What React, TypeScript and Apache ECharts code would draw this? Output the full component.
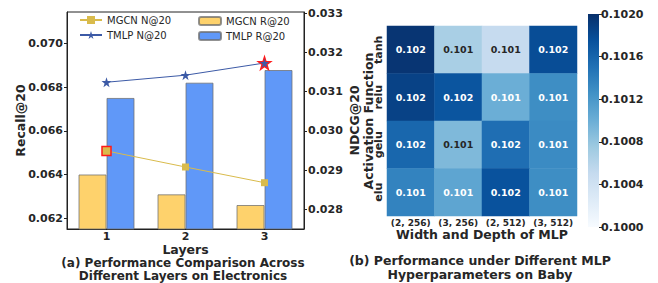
import React, { useEffect, useRef } from "react";
import * as echarts from "echarts";

const layers = ["1", "2", "3"];
const mgcnRecall = [0.064, 0.06309, 0.0626];
const tmlpRecall = [0.06751, 0.06821, 0.06879];
const mgcnNdcg = [0.02949, 0.02908, 0.02868];
const tmlpNdcg = [0.03124, 0.03142, 0.03173];
const recallTicks = [0.062, 0.064, 0.066, 0.068, 0.07];
const ndcgTicks = [0.028, 0.029, 0.03, 0.031, 0.032, 0.033];

const heatCols = ["(2, 256)", "(3, 256)", "(2, 512)", "(3, 512)"];
const heatRows = ["tanh", "relu", "gelu", "elu"];
const heatValues = [
  [0.10196, 0.10068, 0.1005, 0.10178],
  [0.10186, 0.10172, 0.101, 0.10128],
  [0.10158, 0.1009, 0.10152, 0.1013],
  [0.10136, 0.10108, 0.10174, 0.10128],
];

const BLUES = ["#f7fbff", "#deebf7", "#c6dbef", "#9ecae1", "#6baed6", "#4292c6", "#2171b5", "#08519c", "#08306b"];
const FONT = "DejaVu Sans";
const TXT = "#262626";
const STAR = "path://M10,0 L12.245,6.91 L19.51,6.91 L13.63,11.18 L15.88,18.09 L10,13.82 L4.12,18.09 L6.37,11.18 L0.49,6.91 L7.755,6.91 Z";

export default function App() {
  const ref = useRef<HTMLDivElement>(null);
  useEffect(() => {
    if (!ref.current) return;
    const chart = echarts.init(ref.current, undefined, { renderer: "svg" });
    const heatData: any[] = [];
    heatRows.forEach((r, ri) =>
      heatCols.forEach((c, ci) => {
        const v = heatValues[ri][ci];
        heatData.push({ value: [ci, ri, v], label: { color: v < 0.10095 ? TXT : "#ffffff" } });
      })
    );
    const bold = { fontFamily: FONT, fontWeight: "bold" as const, color: TXT };
    const legendText = { fontFamily: FONT, fontSize: 10, color: TXT };
    const mkLegend = (name: string, left: number, top: number, h: number) => ({
      data: [name], left, top, padding: 0, itemWidth: 22, itemHeight: h, textStyle: legendText,
    });
    chart.setOption({
      animation: false,
      textStyle: { fontFamily: FONT },
      title: [
        {
          text: "(a) Performance Comparison Across\nDifferent Layers on Electronics",
          left: 183, top: 256, textAlign: "center", padding: 0,
          textStyle: { ...bold, fontSize: 12, lineHeight: 13.5 },
        },
        {
          text: "(b) Performance under Different MLP\nHyperparameters on Baby",
          left: 480, top: 253, textAlign: "center", padding: 0,
          textStyle: { ...bold, fontSize: 12.5, lineHeight: 14 },
        },
      ],
      legend: [
        mkLegend("MGCN N@20", 79, 15, 10),
        mkLegend("TMLP N@20", 79, 30, 10),
        mkLegend("MGCN R@20", 198, 16, 8),
        mkLegend("TMLP R@20", 198, 31, 8),
      ],
      grid: [
        { left: 67, top: 12, width: 237, height: 217, show: true, borderColor: "#222", borderWidth: 1, containLabel: false },
        { left: 387, top: 26, width: 190, height: 190, containLabel: false },
        { left: 588, top: 14, width: 11, height: 213, containLabel: false },
      ],
      xAxis: [
        {
          type: "category", gridIndex: 0, data: layers,
          name: "Layers", nameLocation: "middle", nameGap: 13.5, nameMoveOverlap: false,
          nameTextStyle: { ...bold, fontSize: 12.5 },
          axisLine: { lineStyle: { color: "#222" } },
          axisTick: { alignWithLabel: true, length: 3, lineStyle: { color: "#222" } },
          axisLabel: { ...bold, fontSize: 11, margin: 2 },
        },
        {
          type: "category", gridIndex: 1, data: heatCols,
          name: "Width and Depth of MLP", nameLocation: "middle", nameGap: 12, nameMoveOverlap: false,
          nameTextStyle: { ...bold, fontSize: 12.5 },
          axisLine: { show: false }, axisTick: { show: false },
          axisLabel: { ...bold, fontSize: 9, margin: 2, interval: 0 },
          splitArea: { show: false },
        },
        { type: "category", gridIndex: 2, data: ["c"], show: false },
      ],
      yAxis: [
        {
          type: "value", gridIndex: 0, min: 0.0615, max: 0.07145,
          name: "Recall@20", nameLocation: "middle", nameGap: 40, nameRotate: 90, nameMoveOverlap: false,
          nameTextStyle: { ...bold, fontSize: 12.5 },
          axisLine: { show: true, lineStyle: { color: "#222" } },
          axisTick: { show: true, length: 3, customValues: recallTicks, lineStyle: { color: "#222" } },
          axisLabel: { ...bold, fontSize: 11, margin: 4, customValues: recallTicks, formatter: (v: number) => v.toFixed(3) },
          splitLine: { show: false },
        },
        {
          type: "value", gridIndex: 0, position: "right", min: 0.0275, max: 0.03303,
          name: "NDCG@20", nameLocation: "middle", nameGap: 44, nameRotate: 90, nameMoveOverlap: false,
          nameTextStyle: { ...bold, fontSize: 12.5 },
          axisLine: { show: true, lineStyle: { color: "#222" } },
          axisTick: { show: true, length: 3, customValues: ndcgTicks, lineStyle: { color: "#222" } },
          axisLabel: { ...bold, fontSize: 11, margin: 4, customValues: ndcgTicks, formatter: (v: number) => v.toFixed(3) },
          splitLine: { show: false },
        },
        {
          type: "category", gridIndex: 1, data: heatRows, inverse: true,
          name: "Activation Function", nameLocation: "middle", nameGap: 12.5, nameRotate: 90, nameMoveOverlap: false,
          nameTextStyle: { ...bold, fontSize: 12.5 },
          axisLine: { show: false }, axisTick: { show: false },
          axisLabel: { ...bold, fontSize: 11, rotate: 90, margin: 3, interval: 0 },
        },
        {
          type: "value", gridIndex: 2, position: "right", min: 0.1, max: 0.102, interval: 0.0004,
          axisLine: { show: false },
          axisTick: { show: true, length: 3, lineStyle: { color: TXT } },
          axisLabel: { ...bold, fontSize: 11, margin: 2, formatter: (v: number) => v.toFixed(4) },
          splitLine: { show: false },
        },
      ],
      visualMap: {
        show: false, type: "continuous", min: 0.1, max: 0.102, seriesIndex: 4, dimension: 2,
        inRange: { color: BLUES },
      },
      series: [
        {
          name: "MGCN R@20", type: "bar", xAxisIndex: 0, yAxisIndex: 0, data: mgcnRecall,
          barWidth: 28, barGap: "0%",
          itemStyle: { color: "#fed26c", borderColor: "rgba(110,110,110,0.75)", borderWidth: 1 },
          z: 1,
        },
        {
          name: "TMLP R@20", type: "bar", xAxisIndex: 0, yAxisIndex: 0, data: tmlpRecall,
          barWidth: 28, barGap: "0%",
          itemStyle: { color: "#6098f8", borderColor: "rgba(110,110,110,0.75)", borderWidth: 1 },
          z: 1,
        },
        {
          name: "MGCN N@20", type: "line", xAxisIndex: 0, yAxisIndex: 1,
          data: mgcnNdcg.map((v, i) =>
            i === 0 ? { value: v, symbolSize: 9, itemStyle: { borderColor: "#ff1a1a", borderWidth: 1.5 } } : v
          ),
          symbol: "rect", symbolSize: 7, showSymbol: true,
          lineStyle: { color: "#d9bb4c", width: 1 }, itemStyle: { color: "#d9bb4c" }, z: 5,
        },
        {
          name: "TMLP N@20", type: "line", xAxisIndex: 0, yAxisIndex: 1,
          data: tmlpNdcg.map((v, i) =>
            i === 2 ? { value: v, symbolSize: 13, itemStyle: { borderColor: "#ff1a1a", borderWidth: 1.2 } } : v
          ),
          symbol: STAR, symbolSize: 10, showSymbol: true,
          lineStyle: { color: "#3c5aa6", width: 1 }, itemStyle: { color: "#3c5aa6" }, z: 5,
        },
        {
          name: "heat", type: "heatmap", xAxisIndex: 1, yAxisIndex: 2, data: heatData,
          label: { show: true, fontFamily: FONT, fontWeight: "bold", fontSize: 9.5, formatter: (p: any) => p.value[2].toFixed(3) },
          itemStyle: { borderWidth: 0 },
          emphasis: { disabled: true },
        },
        {
          name: "cbar", type: "bar", xAxisIndex: 2, yAxisIndex: 3, data: [0.102], barWidth: "100%",
          itemStyle: {
            color: new echarts.graphic.LinearGradient(0, 0, 0, 1,
              BLUES.slice().reverse().map((c, i) => ({ offset: i / (BLUES.length - 1), color: c }))),
          },
          silent: true,
        },
      ],
    });
    return () => chart.dispose();
  }, []);
  return <div ref={ref} style={{ position: "absolute", left: 0, top: 0, width: 658, height: 283 }} />;
}
